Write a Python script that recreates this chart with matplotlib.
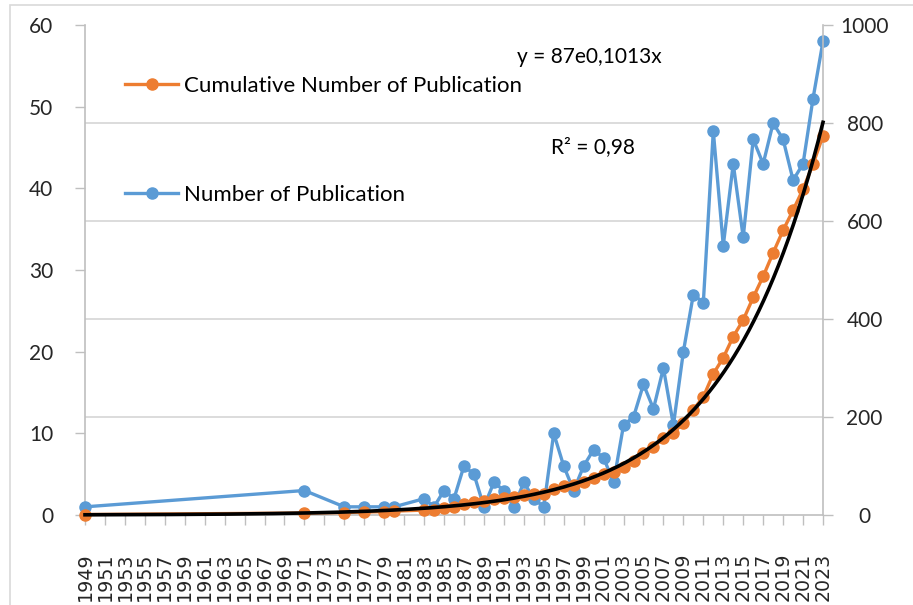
import numpy as np
import matplotlib
matplotlib.use("Agg")
import matplotlib.pyplot as plt
from matplotlib.patches import Rectangle
from matplotlib.ticker import FixedLocator

# data
years = [1949, 1971, 1975, 1977, 1979, 1980,
         1983, 1984, 1985, 1986, 1987, 1988, 1989, 1990, 1991, 1992,
         1993, 1994, 1995, 1996, 1997, 1998, 1999, 2000, 2001, 2002,
         2003, 2004, 2005, 2006, 2007, 2008, 2009, 2010, 2011, 2012,
         2013, 2014, 2015, 2016, 2017, 2018, 2019, 2020, 2021, 2022, 2023]
publications = [1, 3, 1, 1, 1, 1,
                2, 1, 3, 2, 6, 5, 1, 4, 3, 1,
                4, 2, 1, 10, 6, 3, 6, 8, 7, 4,
                11, 12, 16, 13, 18, 11, 20, 27, 26, 47,
                33, 43, 34, 46, 43, 48, 46, 41, 43, 51, 58]
cumulative = [1, 4, 5, 6, 7, 8,
              10, 11, 14, 16, 22, 27, 28, 32, 35, 36,
              40, 42, 43, 53, 59, 62, 68, 76, 83, 87,
              98, 110, 126, 139, 157, 168, 188, 215, 241, 288,
              321, 364, 398, 444, 487, 535, 581, 622, 665, 716, 774]
left_ticks = [0, 10, 20, 30, 40, 50, 60]
right_ticks = [0, 200, 400, 600, 800, 1000]
year_ticks = list(range(1949, 2024, 2))

blue = "#5B9BD5"
orange = "#ED7D31"
grid_col = "#D9D9D9"
axis_col = "#BFBFBF"
txt_col = "#262626"
lab_font = "Lato"

fig = plt.figure(figsize=(9.13, 6.05), dpi=100)
ax = fig.add_axes([85 / 913, 90 / 605, 738 / 913, 490 / 605])
ax2 = ax.twinx()

# exponential trendline fitted on the cumulative series (like Excel)
b, ln_a = np.polyfit(years, np.log(cumulative), 1)
tx = np.linspace(years[0], years[-1], 300)
ty = np.exp(ln_a + b * tx)

line_pub, = ax.plot(years, publications, color=blue, lw=2.4, marker="o",
                    ms=8, label="Number of Publication", zorder=3,
                    clip_on=False)
line_cum, = ax2.plot(years, cumulative, color=orange, lw=2.4, marker="o",
                     ms=8, label="Cumulative Number of Publication", zorder=3,
                     clip_on=False)
ax2.plot(tx, ty, color="black", lw=2.6, zorder=4, clip_on=False)

ax.set_xlim(1949, 2023)
ax.set_ylim(0, 60)
ax2.set_ylim(0, 1000)

ax.set_xticks(year_ticks)
ax.set_xticklabels([str(y) for y in year_ticks], rotation=90,
                   fontsize=13.7, family="DejaVu Sans", color=txt_col)
ax.set_yticks(left_ticks)
ax.set_yticklabels([str(v) for v in left_ticks], fontsize=15,
                   family=lab_font, color=txt_col)
ax2.set_yticks(right_ticks)
ax2.set_yticklabels([str(v) for v in right_ticks], fontsize=15,
                    family=lab_font, color=txt_col)

# horizontal gridlines follow the right axis, drawn under the lines
ax.yaxis.set_minor_locator(FixedLocator([v * 60 / 1000 for v in right_ticks]))
ax.grid(axis="y", which="minor", color=grid_col, lw=1.3, zorder=0)
ax.tick_params(axis="y", which="minor", length=0)

ax.tick_params(axis="x", direction="out", length=7, width=1, color=axis_col,
               pad=20)
ax.tick_params(axis="y", which="major", direction="out", length=7, width=1,
               color=axis_col, pad=16)
ax2.tick_params(axis="y", direction="out", length=7, width=1, color=axis_col,
                pad=23)
for lab in ax2.get_yticklabels():
    lab.set_horizontalalignment("center")

for s in ["top", "right"]:
    ax.spines[s].set_visible(False)
for s in ["top", "left", "bottom"]:
    ax2.spines[s].set_visible(False)
ax.spines["left"].set_color(axis_col)
ax.spines["bottom"].set_color(axis_col)
ax2.spines["right"].set_color(axis_col)
for s in [ax.spines["left"], ax.spines["bottom"], ax2.spines["right"]]:
    s.set_linewidth(1.2)

leg = ax2.legend(handles=[line_cum, line_pub], loc="upper left",
                 bbox_to_anchor=(40 / 738, (515 - 76) / 490), frameon=False,
                 prop={"family": lab_font, "size": 16}, handlelength=2.4,
                 handletextpad=0.25, labelspacing=4.0, borderpad=0,
                 borderaxespad=0)
leg.set_zorder(5)

ax2.text((517 - 85) / 738, (515 - 57) / 490, "y = 87e0,1013x",
         transform=ax2.transAxes, fontsize=15, family=lab_font,
         va="center", ha="left")
ax2.text((551 - 85) / 738, (515 - 147) / 490, "R² = 0,98",
         transform=ax2.transAxes, fontsize=15, family=lab_font,
         va="center", ha="left")

# light chart border
fig.add_artist(Rectangle((10 / 913, -0.1), 1.1, 1 - 5 / 605 + 0.1,
                         transform=fig.transFigure, fill=False,
                         edgecolor=grid_col, lw=1.2))

fig.savefig("out.png", dpi=100)
